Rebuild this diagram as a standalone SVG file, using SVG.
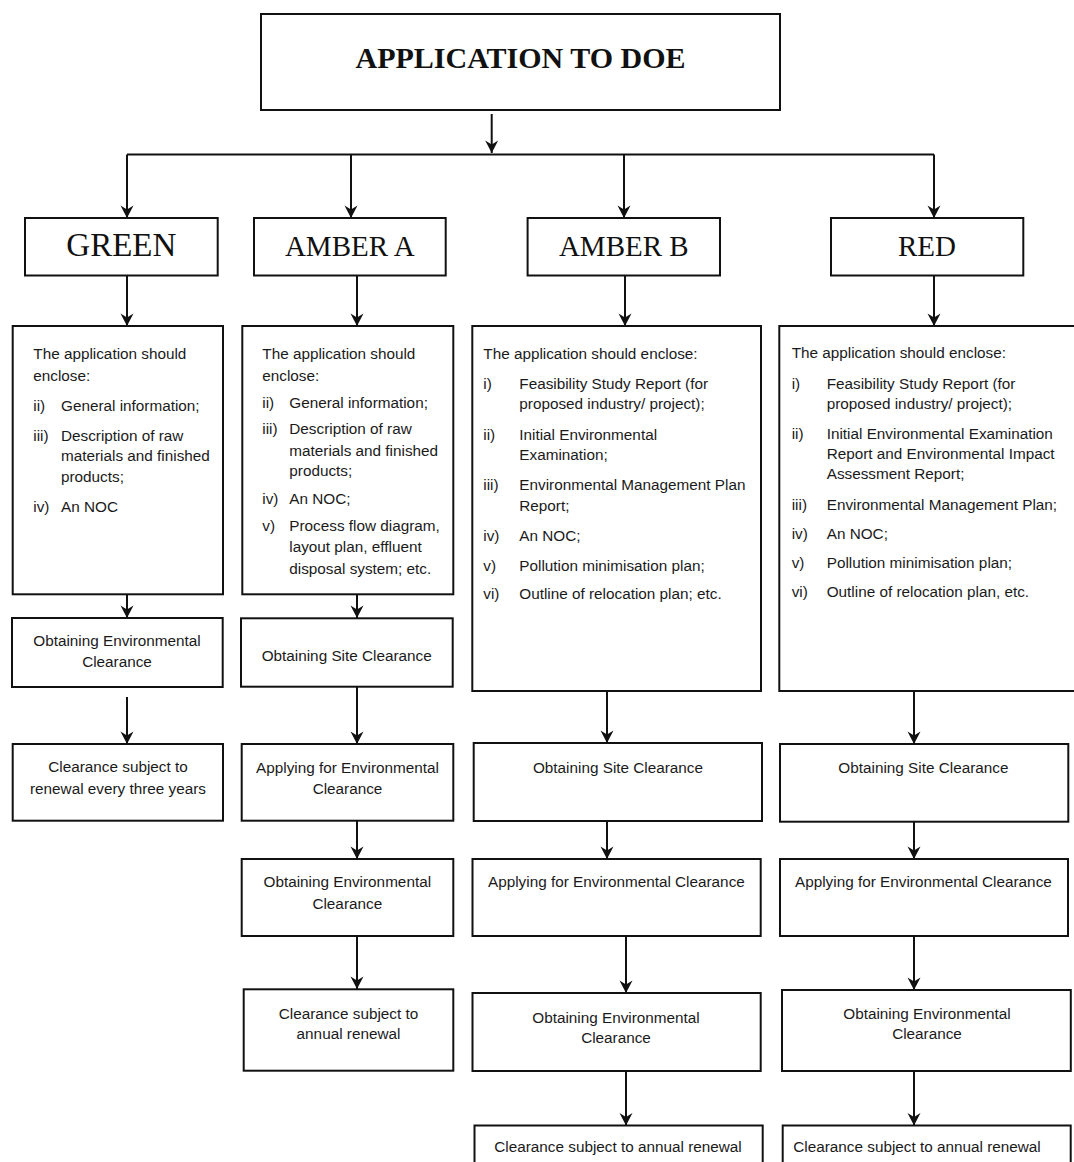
<svg xmlns="http://www.w3.org/2000/svg" width="1074" height="1162" viewBox="0 0 1074 1162">
<style>
.box{fill:#fff;stroke:#111;stroke-width:2}
.conn{stroke:#111;stroke-width:2;fill:none}
.arr{stroke:#111;stroke-width:2;fill:none;marker-end:url(#ah)}
.t{font-family:"Liberation Sans",Arial,sans-serif;font-size:15.3px;fill:#1a1a1a}
.c{text-anchor:middle}
.cat{font-family:"Liberation Serif","Times New Roman",serif;font-size:29px;fill:#111;text-anchor:middle}
.title{font-family:"Liberation Serif","Times New Roman",serif;font-size:30px;font-weight:bold;fill:#111;text-anchor:middle}
</style>
<defs>
<marker id="ah" markerUnits="userSpaceOnUse" viewBox="-13 -7 14 14" refX="0" refY="0" markerWidth="14" markerHeight="14" orient="auto">
<path d="M0,0 L-12.5,-6.5 L-8.5,0 L-12.5,6.5 Z" fill="#111"/>
</marker>
</defs>
<rect width="1074" height="1162" fill="#fff"/>

<g id="connectors">
<line class="arr" x1="491.7" y1="114" x2="491.7" y2="153"/>
<line class="conn" x1="127" y1="154.5" x2="934" y2="154.5"/>
<line class="arr" x1="127" y1="154.5" x2="127" y2="218"/>
<line class="arr" x1="351" y1="154.5" x2="351" y2="218"/>
<line class="arr" x1="624" y1="154.5" x2="624" y2="218"/>
<line class="arr" x1="934" y1="154.5" x2="934" y2="218"/>
<line class="arr" x1="127" y1="276" x2="127" y2="326"/>
<line class="arr" x1="357" y1="276" x2="357" y2="326"/>
<line class="arr" x1="625" y1="276" x2="625" y2="326"/>
<line class="arr" x1="934" y1="276" x2="934" y2="326"/>
<line class="arr" x1="127" y1="594" x2="127" y2="618"/>
<line class="arr" x1="357" y1="594" x2="357" y2="618"/>
<line class="arr" x1="607" y1="691" x2="607" y2="743"/>
<line class="arr" x1="914" y1="691" x2="914" y2="744"/>
<line class="arr" x1="127" y1="697" x2="127" y2="744"/>
<line class="arr" x1="357" y1="687" x2="357" y2="744"/>
<line class="arr" x1="607" y1="821" x2="607" y2="859"/>
<line class="arr" x1="914" y1="822" x2="914" y2="859"/>
<line class="arr" x1="357" y1="821" x2="357" y2="859"/>
<line class="arr" x1="626" y1="936" x2="626" y2="993"/>
<line class="arr" x1="914" y1="936" x2="914" y2="990"/>
<line class="arr" x1="357" y1="936" x2="357" y2="989"/>
<line class="arr" x1="626" y1="1071" x2="626" y2="1125.5"/>
<line class="arr" x1="914" y1="1071" x2="914" y2="1125.5"/>
</g>

<g id="n-top">
<rect class="box" x="261" y="14" width="519" height="96"/>
<text class="title" x="520.5" y="68">APPLICATION TO DOE</text>
</g>

<g id="n-green">
<rect class="box" x="25" y="218" width="192.7" height="57.5"/>
<text class="cat" x="121.3" y="256" style="font-size:33px">GREEN</text>
</g>
<g id="n-ambera">
<rect class="box" x="254" y="218" width="191.7" height="57.5"/>
<text class="cat" x="349.8" y="256">AMBER A</text>
</g>
<g id="n-amberb">
<rect class="box" x="527.6" y="218" width="192.4" height="57.5"/>
<text class="cat" x="623.8" y="256">AMBER B</text>
</g>
<g id="n-red">
<rect class="box" x="831" y="218" width="192.3" height="57.5"/>
<text class="cat" x="927" y="256">RED</text>
</g>

<g id="n-green-docs">
<rect class="box" x="12.7" y="326" width="210.3" height="268.3"/>
<text class="t" x="33.3" y="359">The application should</text>
<text class="t" x="33.3" y="380.7">enclose:</text>
<text class="t" x="33.3" y="410.7">ii)</text><text class="t" x="61" y="410.7">General information;</text>
<text class="t" x="33.3" y="440.7">iii)</text><text class="t" x="61" y="440.7">Description of raw</text>
<text class="t" x="61" y="461.3">materials and finished</text>
<text class="t" x="61" y="482.3">products;</text>
<text class="t" x="33.3" y="511.7">iv)</text><text class="t" x="61" y="511.7">An NOC</text>
</g>

<g id="n-ambera-docs">
<rect class="box" x="242.3" y="326" width="211" height="268.3"/>
<text class="t" x="262.3" y="359">The application should</text>
<text class="t" x="262.3" y="380.7">enclose:</text>
<text class="t" x="262.3" y="408.3">ii)</text><text class="t" x="289.3" y="408.3">General information;</text>
<text class="t" x="262.3" y="434">iii)</text><text class="t" x="289.3" y="434">Description of raw</text>
<text class="t" x="289.3" y="455.7">materials and finished</text>
<text class="t" x="289.3" y="475.7">products;</text>
<text class="t" x="262.3" y="504">iv)</text><text class="t" x="289.3" y="504">An NOC;</text>
<text class="t" x="262.3" y="531.3">v)</text><text class="t" x="289.3" y="531.3">Process flow diagram,</text>
<text class="t" x="289.3" y="552.3">layout plan, effluent</text>
<text class="t" x="289.3" y="574">disposal system; etc.</text>
</g>

<g id="n-amberb-docs">
<rect class="box" x="472.3" y="326" width="288.7" height="365"/>
<text class="t" x="483.3" y="359">The application should enclose:</text>
<text class="t" x="483.3" y="389">i)</text><text class="t" x="519.3" y="389">Feasibility Study Report (for</text>
<text class="t" x="519.3" y="409">proposed industry/ project);</text>
<text class="t" x="483.3" y="439.7">ii)</text><text class="t" x="519.3" y="439.7">Initial Environmental</text>
<text class="t" x="519.3" y="459.7">Examination;</text>
<text class="t" x="483.3" y="489.7">iii)</text><text class="t" x="519.3" y="489.7">Environmental Management Plan</text>
<text class="t" x="519.3" y="510.7">Report;</text>
<text class="t" x="483.3" y="540.7">iv)</text><text class="t" x="519.3" y="540.7">An NOC;</text>
<text class="t" x="483.3" y="570.7">v)</text><text class="t" x="519.3" y="570.7">Pollution minimisation plan;</text>
<text class="t" x="483.3" y="599">vi)</text><text class="t" x="519.3" y="599">Outline of relocation plan; etc.</text>
</g>

<g id="n-red-docs">
<rect class="box" x="779.3" y="326" width="300" height="365"/>
<text class="t" x="791.7" y="358.3">The application should enclose:</text>
<text class="t" x="791.7" y="389">i)</text><text class="t" x="826.7" y="389">Feasibility Study Report (for</text>
<text class="t" x="826.7" y="409">proposed industry/ project);</text>
<text class="t" x="791.7" y="439">ii)</text><text class="t" x="826.7" y="439">Initial Environmental Examination</text>
<text class="t" x="826.7" y="459">Report and Environmental Impact</text>
<text class="t" x="826.7" y="479">Assessment Report;</text>
<text class="t" x="791.7" y="509.7">iii)</text><text class="t" x="826.7" y="509.7">Environmental Management Plan;</text>
<text class="t" x="791.7" y="539">iv)</text><text class="t" x="826.7" y="539">An NOC;</text>
<text class="t" x="791.7" y="568.3">v)</text><text class="t" x="826.7" y="568.3">Pollution minimisation plan;</text>
<text class="t" x="791.7" y="597.3">vi)</text><text class="t" x="826.7" y="597.3">Outline of relocation plan, etc.</text>
</g>

<g id="n-green-obtain-ec">
<rect class="box" x="12" y="618" width="210.7" height="69"/>
<text class="t c" x="117" y="646">Obtaining Environmental</text>
<text class="t c" x="117" y="667.3">Clearance</text>
</g>
<g id="n-green-renewal">
<rect class="box" x="12.7" y="744" width="210.3" height="76.7"/>
<text class="t c" x="118" y="772">Clearance subject to</text>
<text class="t c" x="118" y="793.5">renewal every three years</text>
</g>

<g id="n-ambera-site">
<rect class="box" x="241" y="618.3" width="211.7" height="68.4"/>
<text class="t c" x="346.7" y="660.7">Obtaining Site Clearance</text>
</g>
<g id="n-ambera-apply">
<rect class="box" x="241.7" y="744" width="211.6" height="76.7"/>
<text class="t c" x="347.5" y="772.7">Applying for Environmental</text>
<text class="t c" x="347.5" y="794.3">Clearance</text>
</g>
<g id="n-ambera-obtain-ec">
<rect class="box" x="241.7" y="859" width="211.6" height="77"/>
<text class="t c" x="347.3" y="887.3">Obtaining Environmental</text>
<text class="t c" x="347.3" y="909.3">Clearance</text>
</g>
<g id="n-ambera-renewal">
<rect class="box" x="243.7" y="989.3" width="209.6" height="81.4"/>
<text class="t c" x="348.5" y="1019">Clearance subject to</text>
<text class="t c" x="348.5" y="1039.3">annual renewal</text>
</g>

<g id="n-amberb-site">
<rect class="box" x="473.7" y="743" width="288.3" height="78"/>
<text class="t c" x="618" y="772.7">Obtaining Site Clearance</text>
</g>
<g id="n-amberb-apply">
<rect class="box" x="472.5" y="859" width="288.2" height="77"/>
<text class="t c" x="616.4" y="887">Applying for Environmental Clearance</text>
</g>
<g id="n-amberb-obtain-ec">
<rect class="box" x="472.5" y="993" width="288.2" height="78"/>
<text class="t c" x="616" y="1022.7">Obtaining Environmental</text>
<text class="t c" x="616" y="1043.3">Clearance</text>
</g>
<g id="n-amberb-renewal">
<rect class="box" x="474.5" y="1125.5" width="288.2" height="50"/>
<text class="t c" x="618" y="1152">Clearance subject to annual renewal</text>
</g>

<g id="n-red-site">
<rect class="box" x="780" y="744" width="288.3" height="77.7"/>
<text class="t c" x="923.4" y="772.7">Obtaining Site Clearance</text>
</g>
<g id="n-red-apply">
<rect class="box" x="780" y="859" width="288" height="77"/>
<text class="t c" x="923.4" y="887">Applying for Environmental Clearance</text>
</g>
<g id="n-red-obtain-ec">
<rect class="box" x="782" y="990" width="288.8" height="81"/>
<text class="t c" x="927" y="1019.3">Obtaining Environmental</text>
<text class="t c" x="927" y="1039.3">Clearance</text>
</g>
<g id="n-red-renewal">
<rect class="box" x="782.7" y="1125.5" width="288" height="50"/>
<text class="t" x="793.3" y="1152">Clearance subject to annual renewal</text>
</g>
</svg>
